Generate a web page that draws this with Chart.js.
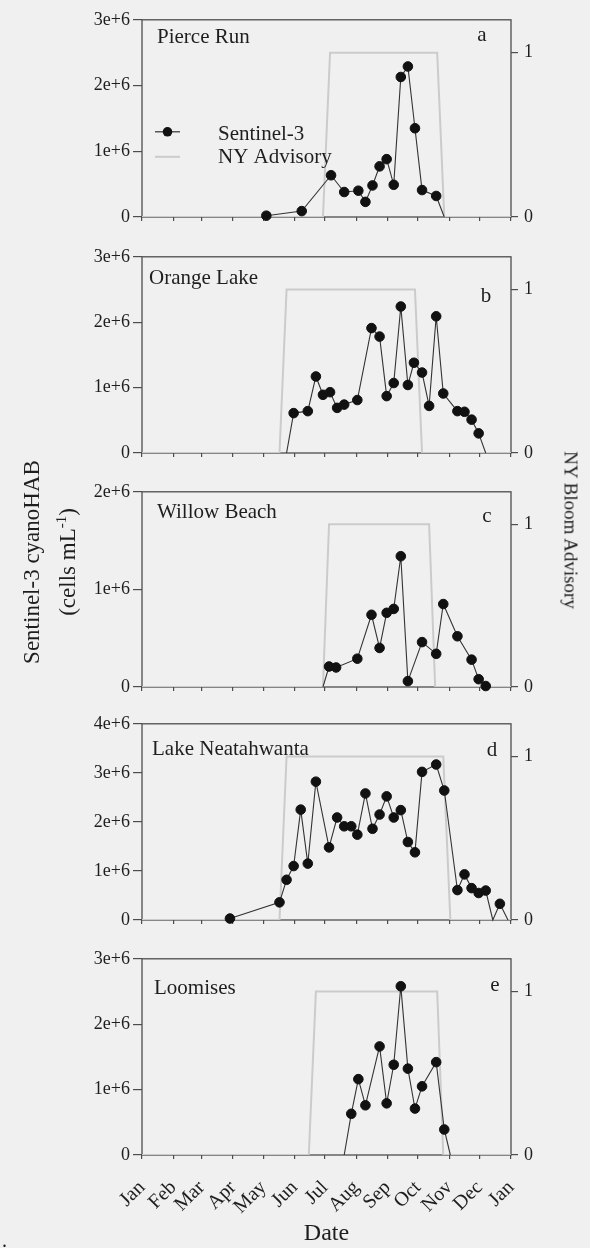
<!DOCTYPE html>
<html>
<head>
<meta charset="utf-8">
<title>Sentinel-3 cyanoHAB and NY bloom advisories</title>
<script src="https://cdn.jsdelivr.net/npm/chart.js@4.4.1/dist/chart.umd.min.js"></script>
<style>
  body { margin: 0; background: #f0f0f0; }
  #wrap {
    position: relative; width: 590px; height: 1248px; overflow: hidden;
    font-family: 'Liberation Serif', 'Times New Roman', serif; color: #1e1e1e;
  }
  #wrap canvas { position: absolute; left: 0; }
  .vtitle { position: absolute; white-space: nowrap; line-height: 1; }
  .vtitle sup { font-size: 65%; line-height: 0; vertical-align: 0.55em; }
</style>
</head>
<body>
<div id="wrap">
  <canvas id="panel-a" width="590" height="234" style="top:3px"></canvas>
  <canvas id="panel-b" width="590" height="233" style="top:240px"></canvas>
  <canvas id="panel-c" width="590" height="232" style="top:475px"></canvas>
  <canvas id="panel-d" width="590" height="233" style="top:707px"></canvas>
  <canvas id="panel-e" width="590" height="306" style="top:942px"></canvas>

  <div class="vtitle" style="left:31px;top:562px;font-size:23px;transform:translate(-50%,-50%) rotate(-90deg)">Sentinel-3 cyanoHAB</div>
  <div class="vtitle" style="left:67px;top:562px;font-size:23px;transform:translate(-50%,-50%) rotate(-90deg)">(cells mL<sup>-1</sup>)</div>
  <div class="vtitle" style="left:571px;top:530px;font-size:19px;transform:translate(-50%,-50%) rotate(90deg)">NY Bloom Advisory</div>
  <div class="vtitle" style="left:2px;top:1230px;font-size:20px">.</div>
</div>

<script>
// month ticks (day of year) shared by every panel
const monthStarts = [0, 31, 59, 90, 120, 151, 181, 212, 243, 273, 304, 334, 365];
const monthLabels = ['Jan', 'Feb', 'Mar', 'Apr', 'May', 'Jun', 'Jul', 'Aug', 'Sep', 'Oct', 'Nov', 'Dec', 'Jan'];

// a - Pierce Run
const pierceDays  = [123, 158, 187, 200, 214, 221, 228, 235, 242, 249, 256, 263, 270, 277, 291, 299];
const pierceCells = [20000, 90000, 635000, 380000, 400000, 230000, 480000, 770000, 880000, 490000,
                     2130000, 2290000, 1350000, 410000, 320000, 0];
const pierceAdvDays = [0, 179, 186, 292, 299, 365];
const pierceAdv     = [0, 0, 1, 1, 0, 0];

// b - Orange Lake
const orangeDays  = [143, 150, 164, 172, 179, 186, 193, 200, 213, 227, 235, 242, 249, 256, 263, 269,
                     277, 284, 291, 298, 312, 319, 326, 333, 340];
const orangeCells = [0, 610000, 640000, 1170000, 890000, 930000, 690000, 740000, 810000, 1910000,
                     1780000, 870000, 1070000, 2240000, 1040000, 1380000, 1230000, 720000, 2090000,
                     910000, 640000, 630000, 510000, 300000, 0];
const orangeAdvDays = [0, 136, 143, 270, 277, 365];
const orangeAdv     = [0, 0, 1, 1, 0, 0];

// c - Willow Beach
const willowDays  = [179, 185, 192, 213, 227, 235, 242, 249, 256, 263, 277, 291, 298, 312, 326, 333, 340];
const willowCells = [0, 210000, 200000, 290000, 740000, 400000, 760000, 800000, 1340000, 60000,
                     460000, 340000, 850000, 520000, 280000, 80000, 10000];
const willowAdvDays = [0, 179, 185, 284, 290, 365];
const willowAdv     = [0, 0, 1, 1, 0, 0];

// d - Lake Neatahwanta
const neatDays  = [87, 136, 143, 150, 157, 164, 172, 185, 193, 200, 207, 213, 221, 228, 235, 242,
                   249, 256, 263, 270, 277, 291, 299, 312, 319, 326, 333, 340, 347, 354, 362];
const neatCells = [30000, 360000, 820000, 1100000, 2250000, 1150000, 2820000, 1480000, 2090000,
                   1910000, 1910000, 1740000, 2580000, 1860000, 2150000, 2520000, 2090000, 2240000,
                   1590000, 1380000, 3020000, 3170000, 2640000, 610000, 930000, 650000, 550000,
                   600000, 0, 330000, 0];
const neatAdvDays = [0, 136, 143, 298, 305, 365];
const neatAdv     = [0, 0, 1, 1, 0, 0];

// e - Loomises
const loomDays  = [200, 207, 214, 221, 235, 242, 249, 256, 263, 270, 277, 291, 299, 305];
const loomCells = [0, 630000, 1160000, 760000, 1660000, 790000, 1380000, 2580000, 1320000,
                   710000, 1050000, 1420000, 390000, 0];
const loomAdvDays = [0, 165, 172, 292, 298, 365];
const loomAdv     = [0, 0, 1, 1, 0, 0];

const siteNames = ['Pierce Run', 'Orange Lake', 'Willow Beach', 'Lake Neatahwanta', 'Loomises'];
const panelLetters = ['a', 'b', 'c', 'd', 'e'];
const cellMax = [3e6, 3e6, 2e6, 4e6, 3e6];

const SERIF = "'Liberation Serif', 'Times New Roman', serif";
const INK = '#1e1e1e';
const AXIS = '#4d4d4d';
const ADVISORY = '#cbcbcb';

Chart.defaults.font.family = SERIF;
Chart.defaults.color = INK;

// box round the plot area, drawn under the lines so the advisory trace covers the base
const frame = {
    id: 'frame',
    beforeDatasetsDraw(chart) {
        const a = chart.chartArea;
        const c = chart.ctx;
        c.save();
        c.strokeStyle = AXIS;
        c.lineWidth = 1.3;
        c.strokeRect(a.left, a.top, a.right - a.left, a.bottom - a.top);
        c.restore();
    }
};

// site name, panel letter and (first panel only) the legend
const panelText = {
    id: 'panelText',
    afterDatasetsDraw(chart, args, opts) {
        const a = chart.chartArea;
        const c = chart.ctx;
        c.save();
        c.fillStyle = INK;
        c.font = '21px ' + SERIF;
        c.textBaseline = 'alphabetic';
        c.textAlign = 'left';
        c.fillText(opts.name, a.left + opts.nameX, a.top + opts.nameY);
        c.textAlign = 'center';
        c.fillText(opts.letter, a.left + opts.letterX, a.top + opts.letterY);
        if (opts.legend) {
            const x0 = a.left + 13, x1 = a.left + 38, tx = a.left + 76;
            // Sentinel-3 swatch
            c.strokeStyle = '#333';
            c.lineWidth = 1.2;
            c.beginPath(); c.moveTo(x0, a.top + 112); c.lineTo(x1, a.top + 112); c.stroke();
            c.fillStyle = '#111';
            c.beginPath(); c.arc((x0 + x1) / 2, a.top + 112, 4.8, 0, Math.PI * 2); c.fill();
            // advisory swatch
            c.strokeStyle = ADVISORY;
            c.lineWidth = 2;
            c.beginPath(); c.moveTo(x0, a.top + 137); c.lineTo(x1, a.top + 137); c.stroke();
            c.fillStyle = INK;
            c.textAlign = 'left';
            c.fillText('Sentinel-3', tx, a.top + 120);
            c.fillText('NY Advisory', tx, a.top + 143);
        }
        c.restore();
    }
};

function toPoints(xs, ys) {
    return xs.map((x, i) => ({ x: x, y: ys[i] }));
}

function makePanel(id, idx, days, cells, advDays, adv, text, geom) {
    const last = idx === 4;
    return new Chart(document.getElementById(id), {
        type: 'line',
        data: {
            datasets: [{
                label: 'Sentinel-3',
                data: toPoints(days, cells),
                yAxisID: 'y',
                borderColor: '#333',
                borderWidth: 1.1,
                backgroundColor: '#111',
                pointBackgroundColor: '#111',
                pointBorderColor: '#111',
                pointBorderWidth: 1,
                pointRadius: ctx => (ctx.raw && ctx.raw.y === 0 ? 0 : 4.8),
                tension: 0,
                clip: false,
                order: 0
            }, {
                label: 'NY Advisory',
                data: toPoints(advDays, adv),
                yAxisID: 'y1',
                borderColor: ADVISORY,
                borderWidth: 2,
                pointRadius: 0,
                tension: 0,
                order: 1
            }]
        },
        options: {
            responsive: false,
            animation: false,
            events: [],
            layout: { padding: { top: 12, bottom: 0, left: 0, right: 0 } },
            plugins: {
                legend: { display: false },
                tooltip: { enabled: false },
                panelText: text
            },
            scales: {
                x: {
                    type: 'linear',
                    min: 0,
                    max: 365,
                    border: { display: false },
                    grid: { drawOnChartArea: false, drawTicks: true, tickLength: 4, color: AXIS, lineWidth: 1.2 },
                    afterBuildTicks: axis => { axis.ticks = monthStarts.map(v => ({ value: v })); },
                    afterFit: axis => { axis.height = geom.xh; },
                    ticks: {
                        display: last,
                        autoSkip: false,
                        minRotation: 45,
                        maxRotation: 45,
                        padding: 17,
                        color: INK,
                        font: { size: 20 },
                        callback: (v, i) => monthLabels[i]
                    },
                    title: {
                        display: last,
                        text: 'Date',
                        color: INK,
                        font: { size: 24 },
                        padding: { top: 0, bottom: 0 }
                    }
                },
                y: {
                    position: 'left',
                    min: 0,
                    max: cellMax[idx],
                    border: { display: false },
                    grid: { drawOnChartArea: false, drawTicks: true, tickLength: 9, color: AXIS, lineWidth: 1.2 },
                    afterFit: axis => { axis.width = 142; },
                    ticks: {
                        stepSize: 1e6,
                        padding: 3,
                        color: INK,
                        font: { size: 18 },
                        callback: v => (v === 0 ? '0' : (v / 1e6) + 'e+6')
                    }
                },
                y1: {
                    position: 'right',
                    min: 0,
                    max: 1.2,
                    border: { display: false },
                    grid: { drawOnChartArea: false, drawTicks: true, tickLength: 7, color: AXIS, lineWidth: 1.2 },
                    afterBuildTicks: axis => { axis.ticks = [{ value: 0 }, { value: 1 }]; },
                    afterFit: axis => { axis.width = 79; },
                    ticks: { padding: 6, color: INK, font: { size: 18 } }
                }
            }
        },
        plugins: [frame, panelText]
    });
}

// label offsets are measured from the top-left corner of each plot area
const textSpots = [
    { nameX: 15, nameY: 23, letterX: 340, letterY: 21, legend: true },
    { nameX: 7,  nameY: 27, letterX: 344, letterY: 45 },
    { nameX: 15, nameY: 26, letterX: 345, letterY: 30 },
    { nameX: 10, nameY: 31, letterX: 350, letterY: 32 },
    { nameX: 12, nameY: 35, letterX: 353, letterY: 32 }
];
const xAxisHeights = [20, 20, 20, 20, 93];

const panelData = [
    ['panel-a', pierceDays, pierceCells, pierceAdvDays, pierceAdv],
    ['panel-b', orangeDays, orangeCells, orangeAdvDays, orangeAdv],
    ['panel-c', willowDays, willowCells, willowAdvDays, willowAdv],
    ['panel-d', neatDays, neatCells, neatAdvDays, neatAdv],
    ['panel-e', loomDays, loomCells, loomAdvDays, loomAdv]
];

panelData.forEach((p, i) => {
    const text = Object.assign({ name: siteNames[i], letter: panelLetters[i] }, textSpots[i]);
    makePanel(p[0], i, p[1], p[2], p[3], p[4], text, { xh: xAxisHeights[i] });
});
</script>
</body>
</html>
